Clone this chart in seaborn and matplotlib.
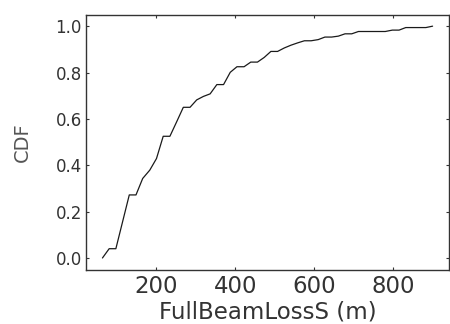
import matplotlib
matplotlib.use("Agg")
import matplotlib.pyplot as plt
import seaborn as sns
import pandas as pd

loss_m = [63, 80, 97, 114, 131, 148, 165, 183, 200, 217,
          234, 251, 268, 285, 302, 319, 336, 353, 370, 387,
          404, 422, 439, 456, 473, 490, 507, 524, 541, 558,
          575, 592, 610, 627, 644, 661, 678, 695, 712, 729,
          746, 763, 780, 798, 815, 832, 849, 866, 883, 900]
cdf = [0.000, 0.040, 0.040, 0.156, 0.272, 0.272, 0.343, 0.379, 0.429, 0.525,
       0.525, 0.587, 0.650, 0.650, 0.682, 0.697, 0.708, 0.748, 0.748, 0.801,
       0.825, 0.825, 0.845, 0.845, 0.865, 0.891, 0.891, 0.906, 0.918, 0.928,
       0.937, 0.937, 0.942, 0.953, 0.953, 0.957, 0.967, 0.967, 0.977, 0.977,
       0.977, 0.977, 0.977, 0.983, 0.983, 0.994, 0.994, 0.994, 0.994, 1.000]
x_ticks = [200, 400, 600, 800]
y_ticks = [0.0, 0.2, 0.4, 0.6, 0.8, 1.0]
y_tick_labels = ["0.0", "0.2", "0.4", "0.6", "0.8", "1.0"]

sns.set_style("ticks")
plt.rcParams["font.family"] = ["DejaVu Sans"]

df = pd.DataFrame({"FullBeamLossS (m)": loss_m, "CDF": cdf})

fig = plt.figure(figsize=(4.5, 3.24), dpi=100)
ax = fig.add_axes([0.191, 0.168, 0.807, 0.787])

sns.lineplot(data=df, x="FullBeamLossS (m)", y="CDF", estimator=None,
             color="#1a1a1a", linewidth=0.9, ax=ax)

ax.set_ylim(-0.05, 1.05)
ax.set_xticks(x_ticks)
ax.set_yticks(y_ticks)
ax.set_yticklabels(y_tick_labels)

for s in ax.spines.values():
    s.set_visible(True)
    s.set_linewidth(1.0)
    s.set_color("#333333")

ax.tick_params(axis="both", direction="in", length=2.5, width=0.8,
               color="#333333", top=True, right=True)
ax.tick_params(axis="x", labelsize=16.5, pad=4, labelcolor="#333333")
ax.tick_params(axis="y", labelsize=12, pad=3, labelcolor="#333333")

ax.set_xlabel("FullBeamLossS (m)", fontsize=16.5, color="#333333", labelpad=2)
ax.set_ylabel("CDF", fontsize=14, color="#555555", labelpad=17)

fig.savefig("out.png", dpi=100)
